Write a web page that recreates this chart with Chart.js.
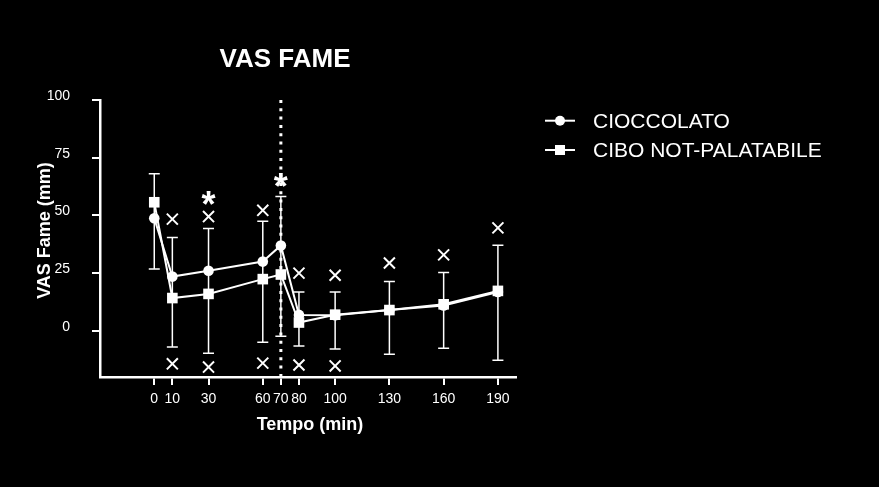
<!DOCTYPE html>
<html><head><meta charset="utf-8">
<script src="https://cdn.jsdelivr.net/npm/chart.js@4"></script>
<style>html,body{margin:0;padding:0;background:#000;overflow:hidden}canvas{display:block}</style>
</head><body>
<canvas id="c" width="879" height="487"></canvas>
<script>
const times = [0,10,30,60,70,80,100,130,160,190];
const xTickValues = [0,10,30,60,70,80,100,130,160,190];
const yTickValues = [0,25,50,75,100];
const cioccolato = [48.8,23.5,26,30,37,6.9,6.8,9,11,16.8];
const ciboNP = [55.7,14.2,16,22.4,24.4,3.6,7,9,11.5,17.3];
const errHigh = [68,40.4,44.3,47.5,58.2,16.8,16.8,21.4,25.3,37.1];
const errLow = [26.8,-7,-9.7,-4.9,-2.3,-6.6,-7.9,-10.1,-7.5,-12.7];
const upperXTimes = [10,30,60,80,100,130,160,190];
const upperXValues = [48.4,49.5,52.2,25,24.1,29.4,32.9,44.6];
const lowerXTimes = [10,30,60,80,100];
const lowerXValues = [-14.3,-15.7,-14,-14.8,-15.2];
const starTimes = [30,70];
const starValues = [57.4,65.4];
const markerTime = 70;
const seriesLabels = ['CIOCCOLATO','CIBO NOT-PALATABILE'];
const titleText = 'VAS FAME';
const xTitle = 'Tempo (min)';
const yTitle = 'VAS Fame (mm)';

const FONT = '"Liberation Sans", Arial, sans-serif';
const W = '#ffffff';

const deco = {
  id: 'deco',
  beforeDatasetsDraw(chart) {
    const {ctx, scales: {x, y}, chartArea} = chart;
    ctx.save();
    ctx.strokeStyle = W;
    ctx.lineWidth = 3;
    ctx.setLineDash([3, 5.3]);
    const px = x.getPixelForValue(markerTime);
    ctx.beginPath(); ctx.moveTo(px, chartArea.top); ctx.lineTo(px, chartArea.bottom); ctx.stroke();
    ctx.setLineDash([]);
    ctx.lineWidth = 1.5;
    times.forEach((t, i) => {
      const xx = x.getPixelForValue(t);
      const y1 = y.getPixelForValue(errHigh[i]);
      const y2 = y.getPixelForValue(errLow[i]);
      ctx.beginPath();
      ctx.moveTo(xx, y1); ctx.lineTo(xx, y2);
      ctx.moveTo(xx - 5.5, y1); ctx.lineTo(xx + 5.5, y1);
      ctx.moveTo(xx - 5.5, y2); ctx.lineTo(xx + 5.5, y2);
      ctx.stroke();
    });
    ctx.restore();
  },
  afterDraw(chart) {
    const {ctx, scales: {x, y}} = chart;
    ctx.save();
    ctx.fillStyle = W;
    // title
    ctx.font = 'bold 26px ' + FONT;
    ctx.textAlign = 'center';
    ctx.textBaseline = 'alphabetic';
    ctx.fillText(titleText, 285, 67);
    // x title
    ctx.font = 'bold 18px ' + FONT;
    ctx.fillText(xTitle, 310, 429.5);
    // y title
    ctx.save();
    ctx.translate(49.5, 230.5);
    ctx.rotate(-Math.PI / 2);
    ctx.fillText(yTitle, 0, 0);
    ctx.restore();
    // asterisks
    ctx.font = 'bold 36px ' + FONT;
    const m = ctx.measureText('*');
    starTimes.forEach((t, i) => {
      const cx = x.getPixelForValue(t);
      const cy = y.getPixelForValue(starValues[i]);
      ctx.fillText('*', cx, cy + (m.actualBoundingBoxAscent - m.actualBoundingBoxDescent) / 2);
    });
    // legend
    const rows = [120.7, 150];
    ctx.font = '21px ' + FONT;
    ctx.textAlign = 'left';
    ctx.strokeStyle = W;
    ctx.lineWidth = 2;
    seriesLabels.forEach((lab, i) => {
      const yy = rows[i];
      ctx.beginPath(); ctx.moveTo(545, yy); ctx.lineTo(575, yy); ctx.stroke();
      ctx.beginPath();
      if (i === 0) { ctx.arc(560, yy, 5, 0, Math.PI * 2); ctx.fill(); }
      else { ctx.fillRect(555, yy - 5, 10, 10); }
      ctx.fillText(lab, 593, yy + 7);
    });
    ctx.restore();
  }
};

const gridOpts = {drawOnChartArea: false, drawTicks: true, tickLength: 8, color: W, lineWidth: 2};
const borderOpts = {display: true, color: W, width: 2.5};

new Chart(document.getElementById('c'), {
  type: 'line',
  data: {
    datasets: [
      {label: seriesLabels[0], data: times.map((t, i) => ({x: t, y: cioccolato[i]})),
       borderColor: W, backgroundColor: W, borderWidth: 2, pointStyle: 'circle', pointRadius: 5.3, pointBorderWidth: 0, order: 1},
      {label: seriesLabels[1], data: times.map((t, i) => ({x: t, y: ciboNP[i]})),
       borderColor: W, backgroundColor: W, borderWidth: 2, pointStyle: 'rect', pointRadius: 7.5, pointBorderWidth: 0, order: 0},
      {label: 'up', data: upperXTimes.map((t, i) => ({x: t, y: upperXValues[i]})), showLine: false,
       borderColor: W, backgroundColor: W, pointStyle: 'crossRot', pointRadius: 7.8, pointBorderWidth: 2, order: 2},
      {label: 'low', data: lowerXTimes.map((t, i) => ({x: t, y: lowerXValues[i]})), showLine: false,
       borderColor: W, backgroundColor: W, pointStyle: 'crossRot', pointRadius: 7.8, pointBorderWidth: 2, order: 2}
    ]
  },
  options: {
    responsive: false,
    animation: false,
    events: [],
    layout: {padding: {left: 0, top: 100, right: 363, bottom: 0}},
    plugins: {legend: {display: false}, title: {display: false}, tooltip: {enabled: false}},
    scales: {
      x: {type: 'linear', min: -30, max: 200,
          afterBuildTicks: s => { s.ticks = xTickValues.map(v => ({value: v})); },
          afterFit: s => { s.height = 110; },
          grid: gridOpts, border: borderOpts,
          ticks: {color: W, font: {family: FONT, size: 14}, padding: 6, maxRotation: 0, autoSkip: false}},
      y: {type: 'linear', min: -20, max: 100,
          afterBuildTicks: s => { s.ticks = yTickValues.map(v => ({value: v})); },
          afterFit: s => { s.width = 100; },
          grid: gridOpts, border: borderOpts,
          ticks: {color: W, font: {family: FONT, size: 14}, padding: 22, labelOffset: -4}}
    }
  },
  plugins: [deco]
});
</script>
</body></html>
